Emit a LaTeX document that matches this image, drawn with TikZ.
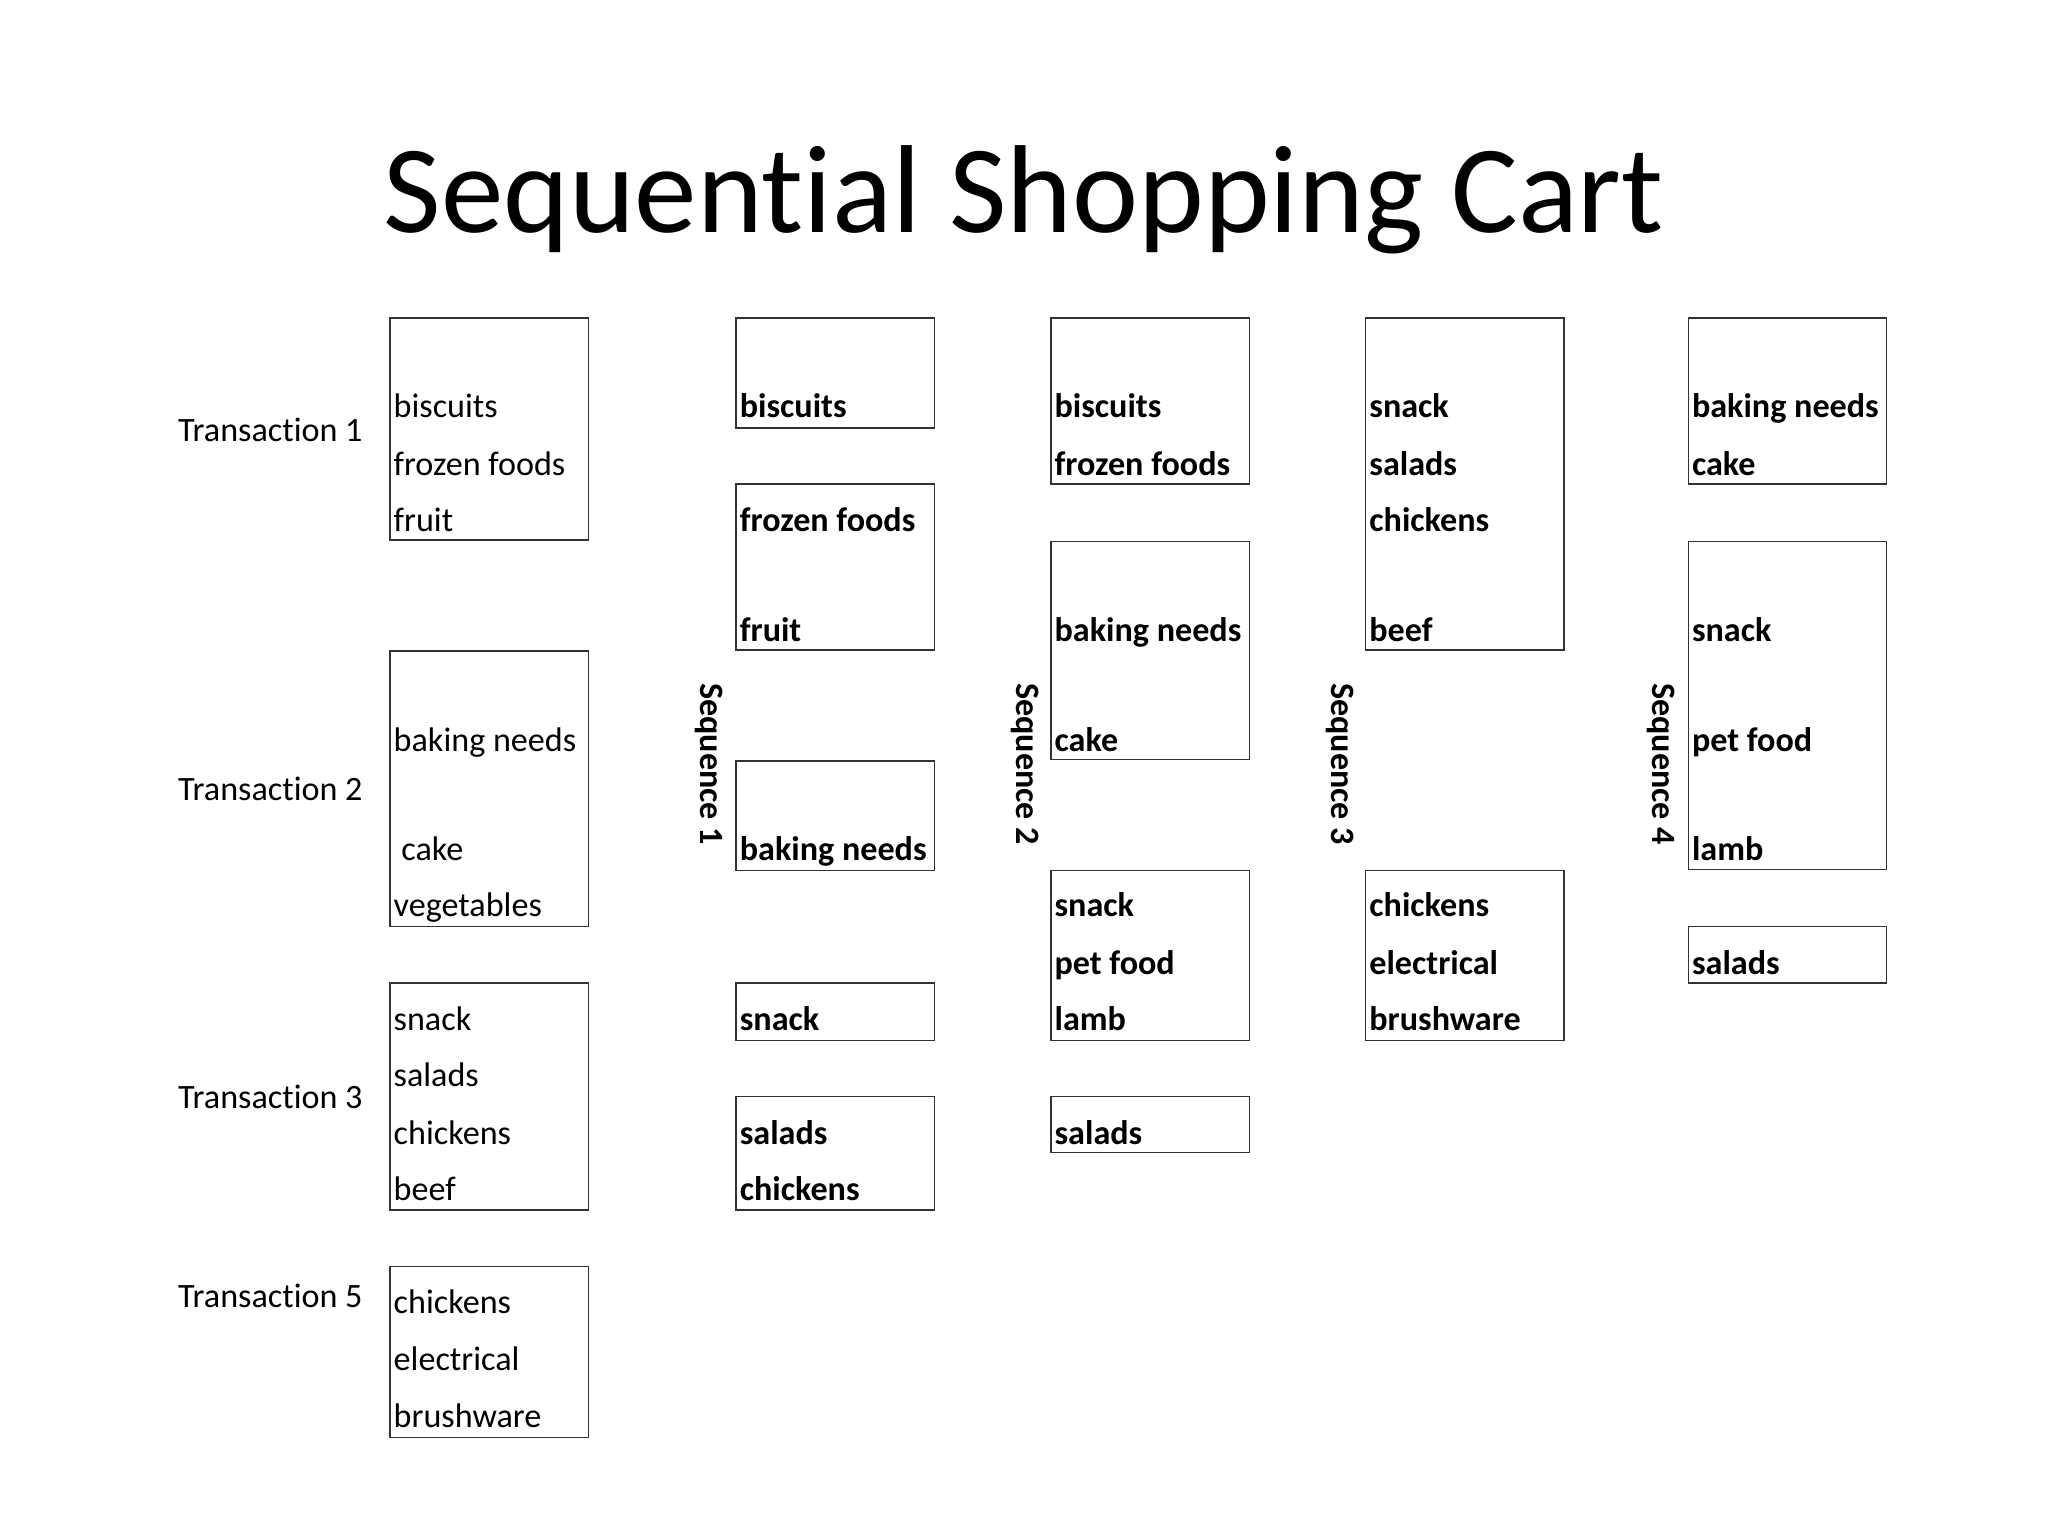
\documentclass[tikz,border=0pt]{standalone}
\usepackage{fontspec}
\setmainfont{Carlito}[Ligatures=NoCommon]
\newcommand\unitpx{0.4592pt}

\begin{document}
\begin{tikzpicture}[x=\unitpx,y=-\unitpx,
    cell/.style={draw=black!80,line width=0.5pt,anchor=north west,inner sep=0pt,minimum width=152*\unitpx},
    item/.style={anchor=base west,inner sep=0pt,font=\fontsize{12}{14}\selectfont},
    label/.style={item,anchor=base west},
    seqlabel/.style={inner sep=0pt,rotate=-90,font=\fontsize{12}{14}\selectfont\bfseries},
    title/.style={anchor=base,inner sep=0pt,font=\fontsize{44}{50}\selectfont}]
  \useasboundingbox (0,0) rectangle (1568,1176);

  \node[title] (title) at (784,178) {Sequential Shopping Cart};

  % transactions
  \foreach \nm/\y in {1/338,2/613,3/849,5/1001}
    \node[label] (tl\nm) at (136,\y) {Transaction \nm};

  \foreach \nm/\x/\top/\bot/\lines in {
      t1/298/243/413/{320/biscuits,364/frozen foods,407/fruit},
      t2/298/498/709/{575/baking needs,659/\ cake,702/vegetables},
      t3/298/752/926/{789/snack,832/salads,876/chickens,919/beef},
      t5/298/969/1100/{1006/chickens,1049/electrical,1093/brushware}} {
    \node[cell,minimum height={(\bot-\top)*\unitpx}] (\nm) at (\x,\top) {};
    \foreach \y/\txt [count=\k] in \lines
      \node[item] (\nm-\k) at (\x+3,\y) {\txt};
  }

  % sequences
  \foreach \i/\x in {1/543,2/785,3/1026,4/1272}
    \node[seqlabel] (sl\i) at (\x,585) {Sequence \i};

  \foreach \nm/\x/\top/\bot/\lines in {
      s1a/563/243/327/{320/biscuits},
      s1b/563/370/497/{407/frozen foods,491/fruit},
      s1c/563/582/666/{659/baking needs},
      s1d/563/752/796/{789/snack},
      s1e/563/839/926/{876/salads,919/chickens},
      s2a/804/243/370/{320/biscuits,364/frozen foods},
      s2b/804/414/581/{491/baking needs,575/cake},
      s2c/804/666/796/{702/snack,746/pet food,789/lamb},
      s2d/804/839/882/{876/salads},
      s3a/1045/243/497/{320/snack,364/salads,407/chickens,491/beef},
      s3b/1045/666/796/{702/chickens,746/electrical,789/brushware},
      s4a/1292/243/370/{320/baking needs,364/cake},
      s4b/1292/414/665/{491/snack,575/pet food,659/lamb},
      s4c/1292/709/752/{746/salads}} {
    \node[cell,minimum height={(\bot-\top)*\unitpx}] (\nm) at (\x,\top) {};
    \foreach \y/\txt [count=\k] in \lines
      \node[item,font=\fontsize{12}{14}\selectfont\bfseries] (\nm-\k) at (\x+3,\y) {\txt};
  }
\end{tikzpicture}
\end{document}
